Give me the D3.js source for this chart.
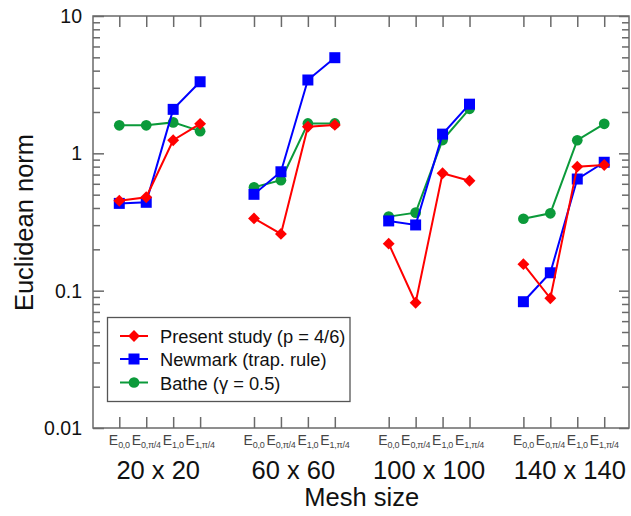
<!DOCTYPE html>
<html>
<head>
<meta charset="utf-8">
<script src="https://cdn.jsdelivr.net/npm/d3@7"></script>
<style>
  html, body { margin: 0; padding: 0; background: #fff; }
  svg { display: block; font-family: "Liberation Sans", Arial, sans-serif; }
</style>
</head>
<body>
<svg id="chart" width="631" height="516"></svg>
<script>
// Mesh sizes (groups) and the four error measures shown in each group
const meshSizes = ["20 x 20", "60 x 60", "100 x 100", "140 x 140"];
const measures = [
  { main: "E", sub: "0,0" },
  { main: "E", sub: "0,\u03c0/4" },
  { main: "E", sub: "1,0" },
  { main: "E", sub: "1,\u03c0/4" }
];

// Euclidean norm per mesh size, in measure order
const presentStudy = [
  [0.452, 0.479, 1.245, 1.64],
  [0.336, 0.259, 1.56, 1.61],
  [0.220, 0.0817, 0.716, 0.632],
  [0.156, 0.088, 0.800, 0.822]
];
const newmark = [
  [0.432, 0.440, 2.09, 3.32],
  [0.503, 0.734, 3.42, 4.97],
  [0.322, 0.301, 1.38, 2.28],
  [0.0831, 0.135, 0.650, 0.861]
];
const bathe = [
  [1.60, 1.60, 1.68, 1.45],
  [0.566, 0.637, 1.65, 1.65],
  [0.346, 0.370, 1.25, 2.11],
  [0.334, 0.366, 1.245, 1.64]
];

const yTickValues = [0.01, 0.1, 1, 10];
const yTickLabels = ["0.01", "0.1", "1", "10"];

const seriesNames = ["Present study (p = 4/6)", "Newmark (trap. rule)", "Bathe (\u03b3 = 0.5)"];
const seriesColors = ["#ff0000", "#0000ff", "#0b9a3a"];
const seriesSymbols = ["diamond", "square", "circle"];
const seriesValues = [presentStudy, newmark, bathe];

const svg = d3.select("#chart");
const plot = { left: 93, right: 629, top: 16, bottom: 428 };
// Horizontal nudges for the mesh-size labels (px)
const groupLabelNudge = [-1.5, -1, 0, 6];

// Slot index: 4 measures per group plus one empty slot between groups
const slot = (g, i) => g * 5 + i;

const x = d3.scaleLinear().domain([-0.976, 18.92]).range([plot.left, plot.right]);
const y = d3.scaleLog().domain([0.01, 10]).range([plot.bottom, plot.top]);

const axisColor = "#6a6a6a";

// Minor log ticks
const minorTicks = [];
for (let d = 0.01; d < 10; d *= 10) {
  for (let m = 2; m <= 9; m++) minorTicks.push(+(d * m).toPrecision(3));
}

const slotTicks = [];
meshSizes.forEach((_, g) => measures.forEach((_, i) => slotTicks.push(slot(g, i))));

function styleAxis(sel) {
  sel.select(".domain").remove();
  sel.selectAll(".tick line").attr("stroke", axisColor).attr("stroke-width", 1.5);
  sel.selectAll(".tick text").remove();
}

// Left axis: inward ticks
svg.append("g").attr("transform", `translate(${plot.left},0)`)
  .call(d3.axisLeft(y).tickValues(minorTicks).tickSize(-7).tickFormat(""))
  .call(styleAxis);
svg.append("g").attr("transform", `translate(${plot.left},0)`)
  .call(d3.axisLeft(y).tickValues(yTickValues).tickSize(-11).tickFormat(""))
  .call(styleAxis);
// Right axis
svg.append("g").attr("transform", `translate(${plot.right},0)`)
  .call(d3.axisRight(y).tickValues(minorTicks).tickSize(-7).tickFormat(""))
  .call(styleAxis);
svg.append("g").attr("transform", `translate(${plot.right},0)`)
  .call(d3.axisRight(y).tickValues(yTickValues).tickSize(-10).tickFormat(""))
  .call(styleAxis);
// Top and bottom axes
svg.append("g").attr("transform", `translate(0,${plot.top})`)
  .call(d3.axisTop(x).tickValues(slotTicks).tickSize(-11).tickFormat(""))
  .call(styleAxis);
svg.append("g").attr("transform", `translate(0,${plot.bottom})`)
  .call(d3.axisBottom(x).tickValues(slotTicks).tickSize(-11).tickFormat(""))
  .call(styleAxis);

// Frame
svg.append("rect")
  .attr("x", plot.left).attr("y", plot.top)
  .attr("width", plot.right - plot.left).attr("height", plot.bottom - plot.top)
  .attr("fill", "none").attr("stroke", axisColor).attr("stroke-width", 1.5);

// Y tick labels
svg.append("g").selectAll("text").data(yTickValues).join("text")
  .attr("x", 82).attr("y", d => y(d) + 7)
  .attr("text-anchor", "end")
  .attr("font-size", 19.5).attr("fill", "#111")
  .text((d, i) => yTickLabels[i]);

// Measure labels with subscripts
meshSizes.forEach((_, g) => {
  measures.forEach((m, i) => {
    const t = svg.append("text")
      .attr("x", x(slot(g, i)))
      .attr("y", 445)
      .attr("text-anchor", "middle")
      .attr("fill", "#444");
    t.append("tspan").attr("font-size", 14).text(m.main);
    t.append("tspan").attr("font-size", 9).attr("dy", 3).attr("letter-spacing", -0.3).text(m.sub);
  });
});

// Group labels
svg.append("g").selectAll("text").data(meshSizes).join("text")
  .attr("x", (d, g) => (x(slot(g, 0)) + x(slot(g, 3))) / 2 + groupLabelNudge[g])
  .attr("y", 479)
  .attr("text-anchor", "middle")
  .attr("font-size", 25.5).attr("fill", "#111")
  .text(d => d);

// Axis titles
svg.append("text")
  .attr("x", (x(slot(1, 3)) + x(slot(2, 0))) / 2)
  .attr("y", 506)
  .attr("text-anchor", "middle")
  .attr("font-size", 25.5).attr("fill", "#111")
  .text("Mesh size");
svg.append("text")
  .attr("transform", `translate(33,${(133 + 312) / 2}) rotate(-90)`)
  .attr("text-anchor", "middle")
  .attr("font-size", 25.5).attr("fill", "#111")
  .text("Euclidean norm");

// Marker shapes
const symbolMap = {
  diamond: d3.symbol().type(d3.symbolDiamond2).size(90),
  square: d3.symbol().type(d3.symbolSquare).size(121),
  circle: d3.symbol().type(d3.symbolCircle).size(90)
};

const line = d3.line().x(d => x(d.k)).y(d => y(d.v));

// Draw series: Bathe first, Present study on top
[2, 1, 0].forEach(s => {
  const g = svg.append("g");
  seriesValues[s].forEach((groupVals, gi) => {
    const pts = groupVals.map((v, i) => ({ k: slot(gi, i), v }));
    g.append("path")
      .attr("d", line(pts))
      .attr("fill", "none")
      .attr("stroke", seriesColors[s])
      .attr("stroke-width", 2);
    g.selectAll(null).data(pts).join("path")
      .attr("transform", d => `translate(${x(d.k)},${y(d.v)})`)
      .attr("d", symbolMap[seriesSymbols[s]]())
      .attr("fill", seriesColors[s]);
  });
});

// Legend
const legend = svg.append("g");
legend.append("rect")
  .attr("x", 107.5).attr("y", 317.5).attr("width", 242.5).attr("height", 84)
  .attr("fill", "#fff").attr("stroke", "#555").attr("stroke-width", 1.3);
const rowY = [336, 359, 382.5];
seriesNames.forEach((name, s) => {
  legend.append("line")
    .attr("x1", 120).attr("x2", 148).attr("y1", rowY[s]).attr("y2", rowY[s])
    .attr("stroke", seriesColors[s]).attr("stroke-width", 2);
  legend.append("path")
    .attr("transform", `translate(134,${rowY[s]})`)
    .attr("d", symbolMap[seriesSymbols[s]]())
    .attr("fill", seriesColors[s]);
  legend.append("text")
    .attr("x", 160).attr("y", rowY[s] + 7)
    .attr("font-size", 18.3).attr("fill", "#111")
    .text(name);
});
</script>
</body>
</html>
